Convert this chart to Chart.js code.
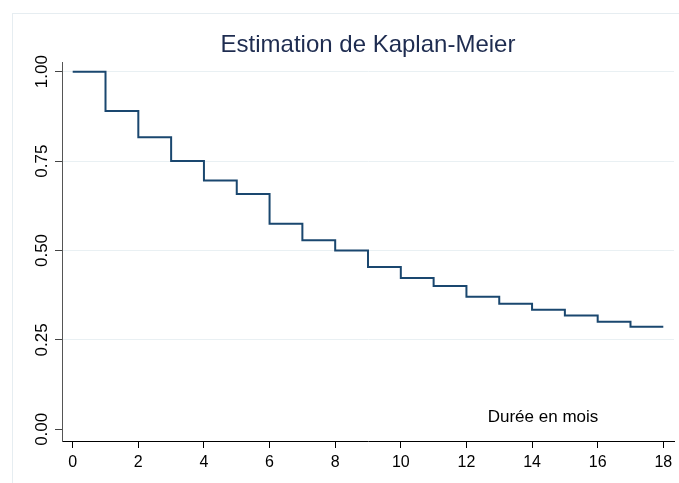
<!DOCTYPE html>
<html>
<head>
<meta charset="utf-8">
<script src="https://cdn.jsdelivr.net/npm/chart.js@4.4.1/dist/chart.umd.min.js"></script>
<style>
  html, body { margin: 0; padding: 0; background: #fff; }
  #wrap { width: 679px; height: 483px; }
</style>
</head>
<body>
<div id="wrap"><canvas id="km" width="679" height="483"></canvas></div>
<script>
// Data
const months = [0, 1, 2, 3, 4, 5, 6, 7, 8, 9, 10, 11, 12, 13, 14, 15, 16, 17, 18];
const survival = [1.000, 0.890, 0.817, 0.750, 0.696, 0.658, 0.575, 0.529, 0.500, 0.454,
                  0.423, 0.401, 0.371, 0.351, 0.334, 0.318, 0.301, 0.287, 0.287];
const xTicks = [0, 2, 4, 6, 8, 10, 12, 14, 16, 18];
const yTicks = [0, 0.25, 0.5, 0.75, 1];
const yTickLabels = ['0.00', '0.25', '0.50', '0.75', '1.00'];

const FONT = "'Liberation Sans', Arial, sans-serif";

// Stata-like frame, rotated y labels and the inner axis title
const decor = {
    id: 'decor',
    beforeDraw(chart) {
        const c = chart.ctx;
        c.save();
        c.fillStyle = '#fff';
        c.fillRect(0, 0, chart.width, chart.height);
        c.strokeStyle = '#e6edf1';
        c.lineWidth = 1;
        c.strokeRect(12.5, 13.5, 700, 500);
        c.restore();
    },
    afterDraw(chart) {
        const c = chart.ctx;
        const y = chart.scales.y;
        c.save();
        c.fillStyle = '#000';
        c.font = '17px ' + FONT;
        c.textAlign = 'center';
        c.textBaseline = 'middle';
        yTicks.forEach((v, i) => {
            c.save();
            c.translate(42.5, y.getPixelForValue(v));
            c.rotate(-Math.PI / 2);
            c.fillText(yTickLabels[i], 0, 0);
            c.restore();
        });
        c.textBaseline = 'alphabetic';
        c.fillText('Durée en mois', 543, 422);
        c.restore();
    }
};

const ctx = document.getElementById('km').getContext('2d');
new Chart(ctx, {
    type: 'line',
    data: {
        datasets: [{
            data: months.map((m, i) => ({ x: m, y: survival[i] })),
            borderColor: '#1a476f',
            borderWidth: 2,
            stepped: true,
            pointRadius: 0,
            fill: false
        }]
    },
    options: {
        responsive: false,
        animation: false,
        layout: { padding: { left: 0, right: 5, top: 0, bottom: 0 } },
        plugins: {
            legend: { display: false },
            tooltip: { enabled: false },
            title: {
                display: true,
                text: 'Estimation de Kaplan-Meier',
                fullSize: false,
                color: '#1e2c50',
                font: { family: FONT, size: 24, weight: 'normal', lineHeight: 1.2 },
                padding: { top: 30.6, bottom: 2.6 }
            }
        },
        scales: {
            x: {
                type: 'linear',
                min: -0.326,
                max: 18.326,
                afterBuildTicks: s => { s.ticks = xTicks.map(v => ({ value: v })); },
                afterFit: s => { s.height = 42; },
                border: { color: '#000', width: 1 },
                grid: { drawOnChartArea: false, drawTicks: true, tickLength: 7, tickColor: '#000' },
                ticks: {
                    color: '#000',
                    padding: 5,
                    maxRotation: 0,
                    autoSkip: false,
                    font: { family: FONT, size: 16 }
                }
            },
            y: {
                type: 'linear',
                min: -0.0327,
                max: 1.0271,
                afterBuildTicks: s => { s.ticks = yTicks.map(v => ({ value: v })); },
                afterFit: s => { s.width = 62; },
                border: { color: '#555', width: 1 },
                grid: {
                    color: c => (c.tick && c.tick.value === 0) ? 'rgba(0,0,0,0)' : '#e9f0f3',
                    lineWidth: 1,
                    drawTicks: true,
                    tickLength: 7,
                    tickColor: '#444'
                },
                ticks: { display: false }
            }
        }
    },
    plugins: [decor]
});
</script>
</body>
</html>
